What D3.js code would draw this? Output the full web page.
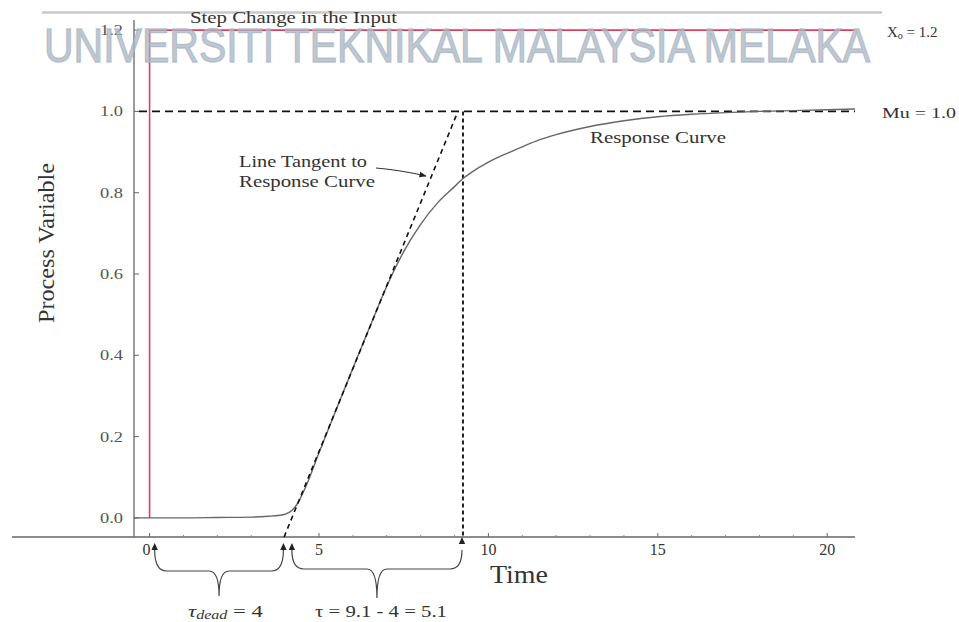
<!DOCTYPE html>
<html>
<head>
<meta charset="utf-8">
<script src="https://cdn.jsdelivr.net/npm/d3@7"></script>
<style>
  html, body { margin: 0; padding: 0; background: #fff; }
  svg { display: block; }
</style>
</head>
<body>
<svg id="chart" width="959" height="622"></svg>
<script>
// ---- data ----
const timeValues = [-0.46, 0, 1, 2, 3, 3.5, 3.8, 4.0, 4.2, 4.4, 4.6, 5.0, 5.5, 6.0, 6.5, 7.0, 7.5, 8.0, 8.5, 9.0, 9.25, 9.5, 10, 10.5, 11, 11.5, 12, 13, 14, 15, 16, 17, 18, 19, 20, 20.82];
const responseValues = [0, 0, 0, 0.001, 0.002, 0.004, 0.006, 0.009, 0.018, 0.04, 0.075, 0.16, 0.265, 0.368, 0.47, 0.57, 0.655, 0.722, 0.775, 0.815, 0.835, 0.85, 0.875, 0.895, 0.913, 0.93, 0.943, 0.963, 0.977, 0.987, 0.993, 0.997, 1.0, 1.002, 1.004, 1.006];
const xTickValues = [0, 5, 10, 15, 20];
const xMinorTicks = [1, 2, 3, 4, 6, 7, 8, 9, 11, 12, 13, 14, 16, 17, 18, 19];
const yTickValues = [0.0, 0.2, 0.4, 0.6, 0.8, 1.0, 1.2];
const stepInput = 1.2;       // Xo
const ultimateValue = 1.0;   // Mu
const stepTime = 0;
const tangentZeroTime = 4.2; // tangent crosses 0
const tangentOneTime = 9.1;  // tangent reaches 1.0
const tauMarkTime = 9.25;    // vertical dashed marker
const deadBrace = [0.15, 3.95];
const tauBrace = [4.2, 9.22];

// ---- layout ----
const svg = d3.select("#chart");
const serif = "'Liberation Serif', 'Times New Roman', serif";
const ink = "#333";
const x = d3.scaleLinear().domain([-0.46, 20.82]).range([134, 855]);
const y = d3.scaleLinear().domain([-0.047, 1.22]).range([537, 22]);

function label(px, py, txt, size, len, anchor) {
  const t = svg.append("text").attr("x", px).attr("y", py)
    .attr("font-family", serif).attr("font-size", size).attr("fill", ink)
    .attr("text-anchor", anchor || "start").text(txt);
  if (len) t.attr("textLength", len).attr("lengthAdjust", "spacingAndGlyphs");
  return t;
}

// top rule
svg.append("line").attr("x1", 42).attr("x2", 882).attr("y1", 12.5).attr("y2", 12.5)
  .attr("stroke", "#c9c9cc").attr("stroke-width", 2.5);

// step change (red)
svg.append("path")
  .attr("d", d3.line()([[x(stepTime), y(0)], [x(stepTime), y(stepInput)], [x(20.82), y(stepInput)]]))
  .attr("fill", "none").attr("stroke", "#d8405f").attr("stroke-width", 1.6);

// axes
svg.append("line").attr("x1", 12).attr("x2", x(20.82)).attr("y1", 537).attr("y2", 537)
  .attr("stroke", "#666").attr("stroke-width", 1.3);
svg.append("line").attr("x1", 134).attr("x2", 134).attr("y1", 20).attr("y2", 537)
  .attr("stroke", "#666").attr("stroke-width", 1.3);

// y ticks & labels
const yAxis = svg.append("g");
yAxis.selectAll("line").data(yTickValues).join("line")
  .attr("x1", 134).attr("x2", 139).attr("y1", d => y(d)).attr("y2", d => y(d))
  .attr("stroke", "#666").attr("stroke-width", 1);
yAxis.selectAll("text").data(yTickValues).join("text")
  .attr("x", 123).attr("y", d => y(d) + 5)
  .attr("text-anchor", "end").attr("font-family", serif).attr("font-size", 15)
  .attr("textLength", 23).attr("lengthAdjust", "spacingAndGlyphs")
  .attr("fill", "#555").text(d => d3.format(".1f")(d));

// x ticks & labels
const xAxis = svg.append("g");
xAxis.selectAll("line.maj").data(xTickValues).join("line").attr("class", "maj")
  .attr("x1", d => x(d)).attr("x2", d => x(d)).attr("y1", 537).attr("y2", 533)
  .attr("stroke", "#666").attr("stroke-width", 1);
xAxis.selectAll("line.min").data(xMinorTicks).join("line").attr("class", "min")
  .attr("x1", d => x(d)).attr("x2", d => x(d)).attr("y1", 537).attr("y2", 535)
  .attr("stroke", "#888").attr("stroke-width", 1);
xAxis.selectAll("text").data(xTickValues).join("text")
  .attr("x", d => x(d) - (d === 0 ? 3 : 0)).attr("y", 555)
  .attr("text-anchor", "middle").attr("font-family", serif).attr("font-size", 16)
  .attr("fill", ink).text(d => d);

// Mu dashed line
svg.append("line").attr("x1", 139).attr("x2", x(20.82)).attr("y1", y(ultimateValue)).attr("y2", y(ultimateValue))
  .attr("stroke", "#111").attr("stroke-width", 1.6).attr("stroke-dasharray", "8,5");

// vertical dashed marker at tau
svg.append("line").attr("x1", x(tauMarkTime)).attr("x2", x(tauMarkTime))
  .attr("y1", y(ultimateValue)).attr("y2", 537)
  .attr("stroke", "#222").attr("stroke-width", 2).attr("stroke-dasharray", "4,3");

// response curve
const pts = timeValues.map((t, i) => [x(t), y(responseValues[i])]);
svg.append("path")
  .attr("d", d3.line().curve(d3.curveMonotoneX)(pts))
  .attr("fill", "none").attr("stroke", "#666").attr("stroke-width", 1.4);

// tangent line (extended to axis)
const slope = 1 / (tangentOneTime - tangentZeroTime);
const tBottom = tangentZeroTime + y.invert(537) / slope;
svg.append("line")
  .attr("x1", x(tBottom)).attr("y1", 537)
  .attr("x2", x(tangentOneTime)).attr("y2", y(ultimateValue))
  .attr("stroke", "#111").attr("stroke-width", 1.6).attr("stroke-dasharray", "5,4");

// text annotations
label(190, 23, "Step Change in the Input", 16, 207);

const xo = svg.append("text").attr("x", 887).attr("y", 37).attr("font-family", serif).attr("font-size", 15).attr("fill", ink);
xo.append("tspan").text("X");
xo.append("tspan").attr("font-size", 10).attr("dy", 2).text("o");
xo.append("tspan").attr("dy", -2).text(" = " + d3.format(".1f")(stepInput));

label(882, 118, "Mu = " + d3.format(".1f")(ultimateValue), 15, 74);
label(590, 143, "Response Curve", 17, 136);
label(239, 167, "Line Tangent to", 17, 128);
label(239, 187, "Response Curve", 17, 136);

// arrow markers
const defs = svg.append("defs");
defs.append("marker").attr("id", "ah").attr("viewBox", "0 0 10 10").attr("refX", 9).attr("refY", 5)
  .attr("markerWidth", 6).attr("markerHeight", 6).attr("orient", "auto")
  .append("path").attr("d", "M0,1 L10,5 L0,9 z").attr("fill", "#222");

svg.append("path").attr("d", "M376,168 Q400,170 426,176")
  .attr("fill", "none").attr("stroke", ink).attr("stroke-width", 1.2).attr("marker-end", "url(#ah)");

// axis labels
label(490, 583, "Time", 25, 58);
svg.append("text").attr("transform", "translate(54,243) rotate(-90)").attr("text-anchor", "middle")
  .attr("font-family", serif).attr("font-size", 24).attr("fill", ink)
  .attr("textLength", 160).attr("lengthAdjust", "spacingAndGlyphs").text("Process Variable");

// braces
function brace(x1, x2, yTop, yMid, yBot) {
  const c = (x1 + x2) / 2;
  return `M${x1},${yTop} Q${x1},${yMid} ${x1 + 12},${yMid} L${c - 10},${yMid} Q${c},${yMid} ${c},${yBot} ` +
         `M${c},${yBot} Q${c},${yMid} ${c + 10},${yMid} L${x2 - 12},${yMid} Q${x2},${yMid} ${x2},${yTop}`;
}
function arrowUp(xp, yp) {
  return `M${xp},${yp} L${xp - 3.2},${yp + 7} L${xp + 3.2},${yp + 7} z`;
}
const bg = svg.append("g").attr("stroke", "#444").attr("stroke-width", 1.2).attr("fill", "none");
bg.append("path").attr("d", brace(x(deadBrace[0]), x(deadBrace[1]), 550, 571, 596));
bg.append("path").attr("d", brace(x(tauBrace[0]), x(tauBrace[1]), 550, 569, 598));
const ag = svg.append("g").attr("fill", "#222");
[[x(deadBrace[0]), 543], [x(deadBrace[1]), 543], [x(tauBrace[0]), 543], [x(tauBrace[1]), 537]].forEach(p => {
  ag.append("path").attr("d", arrowUp(p[0], p[1]));
});

const tdl = svg.append("text").attr("x", 188).attr("y", 617).attr("font-family", serif).attr("font-size", 17)
  .attr("fill", ink).attr("textLength", 75).attr("lengthAdjust", "spacingAndGlyphs");
tdl.append("tspan").attr("font-style", "italic").text("τ");
tdl.append("tspan").attr("font-size", 12).attr("dy", 2).attr("font-style", "italic").text("dead");
tdl.append("tspan").attr("dy", -2).text(" = 4");

label(315, 617, "τ = 9.1 - 4 = 5.1", 17, 132);

// watermark
svg.append("text").attr("transform", "translate(44,62) scale(1,1.15)")
  .attr("font-family", "'Liberation Sans', Arial, sans-serif").attr("font-size", 41)
  .attr("fill", "#aab6c4").attr("fill-opacity", 0.75)
  .attr("stroke", "#aab6c4").attr("stroke-opacity", 0.75).attr("stroke-width", 1.2)
  .text("UNIVERSITI TEKNIKAL MALAYSIA MELAKA");
</script>
</body>
</html>
